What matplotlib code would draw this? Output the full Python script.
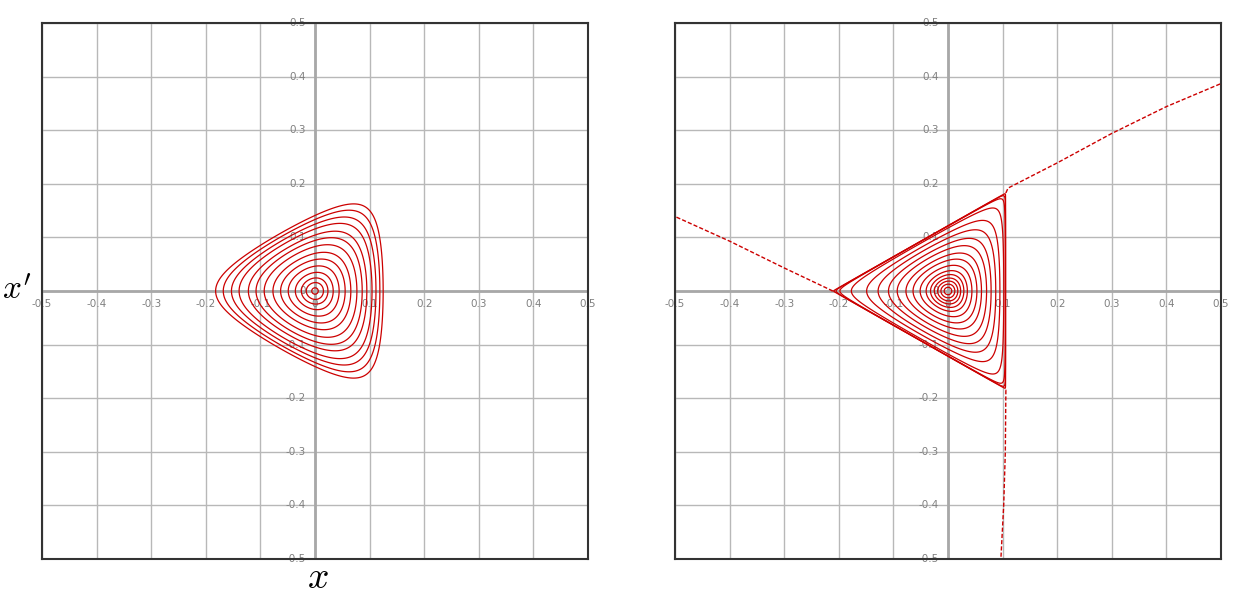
import numpy as np
import matplotlib
matplotlib.use('Agg')
import matplotlib.pyplot as plt

plt.rcParams['mathtext.fontset'] = 'cm'

# grid / tick values shared by both panels
ticks = [-0.5, -0.4, -0.3, -0.2, -0.1, 0.0, 0.1, 0.2, 0.3, 0.4, 0.5]
tick_labels = ['-0.5', '-0.4', '-0.3', '-0.2', '-0.1', '0', '0.1', '0.2', '0.3', '0.4', '0.5']

# sextupole strength of each panel (cubic term of the invariant)
left_b = 1.1
right_b = 1.58

# left x-intercept of each drawn orbit
left_x_intercepts = [-0.006, -0.016, -0.025, -0.036, -0.049, -0.063, -0.077,
                     -0.093, -0.108, -0.122, -0.139, -0.153, -0.168, -0.182]
right_x_intercepts = [-0.007, -0.013, -0.019, -0.025, -0.032, -0.040, -0.051,
                      -0.064, -0.077, -0.093, -0.109, -0.128, -0.149, -0.177,
                      -0.198, -0.205, -0.2095]

# outgoing separatrix branches of the right panel
sep_left_x = [-0.211, -0.3, -0.4, -0.5]
sep_left_p = [0.0, 0.043, 0.093, 0.139]
sep_upper_x = [0.106, 0.110, 0.2, 0.3, 0.4, 0.5]
sep_upper_p = [0.183, 0.192, 0.239, 0.294, 0.344, 0.387]
sep_lower_x = [0.106, 0.105, 0.102, 0.097]
sep_lower_p = [-0.185, -0.3, -0.4, -0.497]

RED = '#cc0000'


def invariant(x, p, b):
    return 0.5 * (x ** 2 + p ** 2) + b * (x ** 3 - 3 * x * p ** 2)


def setup(ax):
    ax.set_xlim(-0.5, 0.5); ax.set_ylim(-0.5, 0.5)
    ax.set_xticks(ticks); ax.set_yticks(ticks)
    ax.tick_params(length=0, labelbottom=False, labelleft=False)
    ax.grid(True, color='#b8b8b8', lw=1.0)
    ax.set_axisbelow(True)
    ax.axhline(0, color='#a8a8a8', lw=2.0, zorder=1)
    ax.axvline(0, color='#a8a8a8', lw=2.0, zorder=1)
    for s in ax.spines.values():
        s.set_color('#333333'); s.set_linewidth(1.5)
    for t, lab in zip(ticks, tick_labels):
        ax.annotate(lab, (t, 0), xytext=(0, -9.5), textcoords='offset points',
                    ha='center', va='center', fontsize=7.5, color='#808080',
                    annotation_clip=False, zorder=2)
        ax.annotate(lab, (0, t), xytext=(-6.5, 0), textcoords='offset points',
                    ha='right', va='center', fontsize=7.5, color='#808080',
                    annotation_clip=False, zorder=2)


def orbits(ax, b, xl, tol):
    g = np.linspace(-0.5, 0.5, 1201)
    X, P = np.meshgrid(g, g)
    H = invariant(X, P, b)
    xv = -1.0 / (3 * b); xe = 1.0 / (6 * b)
    inside = (X < xe + tol) & (np.abs(P) < (X - xv) / np.sqrt(3) + tol)
    Hm = np.ma.masked_where(~inside, H)
    levels = np.sort(invariant(np.array(xl), 0.0, b))
    ax.contour(X, P, Hm, levels=levels, colors=RED, linewidths=0.9, zorder=3)


fig = plt.figure(figsize=(12.54, 5.94), dpi=100)
ax1 = fig.add_axes([42 / 1254, 35 / 594, 546 / 1254, 536 / 594])
ax2 = fig.add_axes([675 / 1254, 35 / 594, 546 / 1254, 536 / 594])

setup(ax1)
orbits(ax1, left_b, left_x_intercepts, 0.0)

setup(ax2)
orbits(ax2, right_b, right_x_intercepts, 0.002)
ax2.plot(sep_left_x, sep_left_p, color=RED, lw=1.0, ls=(0, (3, 1.5)), zorder=3)
ax2.plot(sep_upper_x, sep_upper_p, color=RED, lw=1.0, ls=(0, (3, 1.5)), zorder=3)
ax2.plot(sep_lower_x, sep_lower_p, color=RED, lw=1.0, ls=(0, (3, 1.5)), zorder=3)

fig.text(17 / 1254, 1 - 290 / 594, "$x'$", fontsize=24, ha='center', va='center')
fig.text(318 / 1254, 1 - 578 / 594, "$x$", fontsize=27, ha='center', va='center')

fig.savefig('out.png', dpi=100)
